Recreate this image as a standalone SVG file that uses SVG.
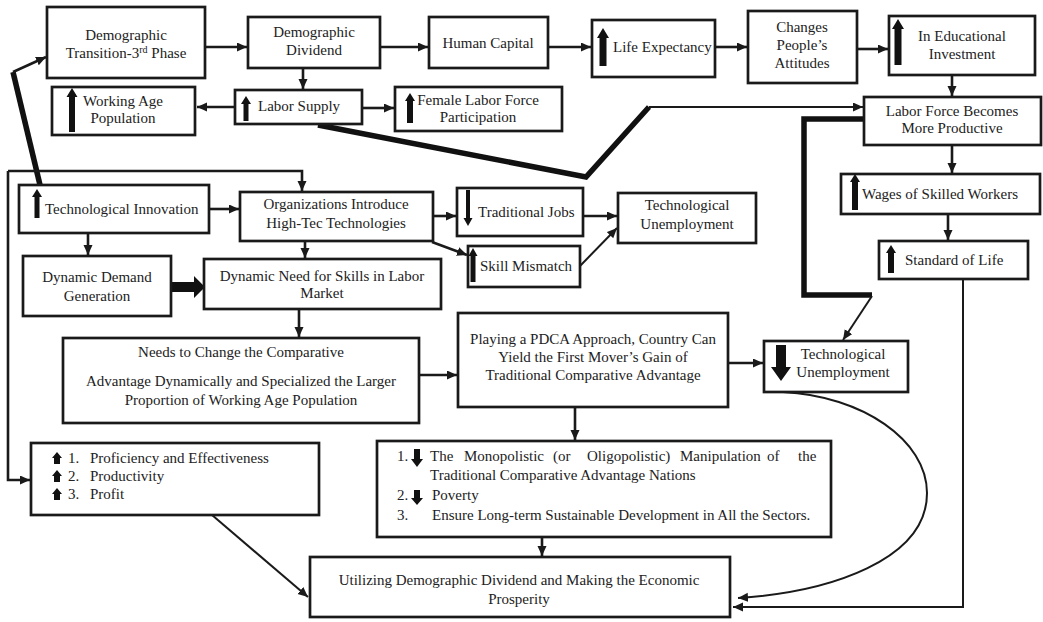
<svg xmlns="http://www.w3.org/2000/svg" width="1043" height="622" viewBox="0 0 1043 622">
<style>
.box{fill:#fff;stroke:#1a1a1a;stroke-width:2.7}
.t{font-size:15px;fill:#222}
.c{text-anchor:middle}
.ic{fill:#111;stroke:none}
.cn{fill:none;stroke:#1a1a1a;stroke-width:2.6}
.thin{fill:none;stroke:#1a1a1a;stroke-width:2}
.thick{fill:none;stroke:#111;stroke-width:5.5;stroke-linejoin:miter}
</style>
<defs>
<marker id="ah" markerUnits="userSpaceOnUse" markerWidth="11" markerHeight="10" refX="10" refY="4.5" orient="auto">
<path d="M0,0 L10,4.5 L0,9 Z" fill="#1a1a1a"/>
</marker>
</defs>
<rect width="1043" height="622" fill="#fff"/>

<g id="connectors">
<path class="cn" d="M205,47 L247,47" marker-end="url(#ah)"/>
<path class="cn" d="M380,47 L428,47" marker-end="url(#ah)"/>
<path class="cn" d="M548,47 L591,47" marker-end="url(#ah)"/>
<path class="cn" d="M715,47 L747,47" marker-end="url(#ah)"/>
<path class="cn" d="M857,49 L888,49" marker-end="url(#ah)"/>
<path class="cn" d="M303,68 L303,89" marker-end="url(#ah)"/>
<path class="cn" d="M235,107 L197,107" marker-end="url(#ah)"/>
<path class="cn" d="M362,108 L394,108" marker-end="url(#ah)"/>
<path class="cn" d="M952,75 L952,96" marker-end="url(#ah)"/>
<path class="cn" d="M952,145 L952,173" marker-end="url(#ah)"/>
<path class="cn" d="M948,214 L948,240" marker-end="url(#ah)"/>
<path class="thick" d="M318,125 L586,177 L649,107"/>
<path class="thin" d="M649,107 L863,107" marker-end="url(#ah)"/>
<path class="thick" d="M864,119 L804,119 L804,295 L872,295"/>
<path class="thin" d="M872,296 L843,340" marker-end="url(#ah)"/>
<path class="thick" d="M40,185 L13,72"/>
<path class="cn" d="M13,72 L46,57" marker-end="url(#ah)"/>
<path class="cn" d="M8,171 L302,171 L302,191" marker-end="url(#ah)"/>
<path class="cn" d="M8,171 L8,480 L30,480" marker-end="url(#ah)"/>
<path class="cn" d="M209,209 L239,209" marker-end="url(#ah)"/>
<path class="cn" d="M88,233 L88,255" marker-end="url(#ah)"/>
<path class="cn" d="M305,241 L305,258" marker-end="url(#ah)"/>
<path class="ic" d="M170,282 L194,282 L194,276 L205,287 L194,298 L194,292 L170,292 Z"/>
<path class="cn" d="M299,309 L299,337" marker-end="url(#ah)"/>
<path class="cn" d="M419,375 L457,375" marker-end="url(#ah)"/>
<path class="cn" d="M433,216 L456,216" marker-end="url(#ah)"/>
<path class="cn" d="M432,242 L467,255" marker-end="url(#ah)"/>
<path class="cn" d="M583,216 L617,216" marker-end="url(#ah)"/>
<path class="thin" d="M580,266 L617,228" marker-end="url(#ah)"/>
<path class="cn" d="M728,363 L763,363" marker-end="url(#ah)"/>
<path class="cn" d="M575,407 L575,440" marker-end="url(#ah)"/>
<path class="cn" d="M542,537 L542,556" marker-end="url(#ah)"/>
<path class="thin" d="M212,515 L308,597" marker-end="url(#ah)"/>
<path class="thin" d="M783,392 C862,396 927,440 927,493 C927,560 830,592 738,598" marker-end="url(#ah)"/>
<path class="thin" d="M963,279 L963,607 L733,607" marker-end="url(#ah)"/>
</g>

<g id="nodes" font-family="Liberation Serif, Times New Roman, serif">
<g id="n-transition">
<rect class="box" x="47" y="7" width="158" height="71"/>
<text class="t c" x="126" y="40">Demographic</text>
<text class="t c" x="126" y="58">Transition-3<tspan dy="-5" font-size="10">rd</tspan><tspan dy="5"> Phase</tspan></text>
</g>
<g id="n-dividend">
<rect class="box" x="248" y="17" width="132" height="51"/>
<text class="t c" x="314" y="37">Demographic</text>
<text class="t c" x="314" y="55">Dividend</text>
</g>
<g id="n-human">
<rect class="box" x="429" y="17" width="119" height="51"/>
<text class="t c" x="488" y="48">Human Capital</text>
</g>
<g id="n-life">
<rect class="box" x="592" y="20" width="123" height="57"/>
<path class="ic" d="M603,28 L609,38 L606.5,38 L606.5,66 L599.5,66 L599.5,38 L597,38 Z"/>
<text class="t" x="613" y="52">Life Expectancy</text>
</g>
<g id="n-attitudes">
<rect class="box" x="748" y="11" width="109" height="72"/>
<text class="t c" x="802" y="32">Changes</text>
<text class="t c" x="802" y="50">People’s</text>
<text class="t c" x="802" y="68">Attitudes</text>
</g>
<g id="n-education">
<rect class="box" x="889" y="16" width="146" height="59"/>
<path class="ic" d="M898,19 L904,29 L901.5,29 L901.5,65 L894.5,65 L894.5,29 L892,29 Z"/>
<text class="t c" x="962" y="41">In Educational</text>
<text class="t c" x="962" y="59">Investment</text>
</g>
<g id="n-laborsupply">
<rect class="box" x="235" y="90" width="127" height="34"/>
<path class="ic" d="M246,96 L251,104 L248.5,104 L248.5,121 L243.5,121 L243.5,104 L241,104 Z"/>
<text class="t" x="258" y="111">Labor Supply</text>
</g>
<g id="n-workingage">
<rect class="box" x="52" y="87" width="143" height="48"/>
<path class="ic" d="M72,88 L77.5,97 L75,97 L75,132 L69,132 L69,97 L66.5,97 Z"/>
<text class="t c" x="123" y="106">Working Age</text>
<text class="t c" x="123" y="123">Population</text>
</g>
<g id="n-female">
<rect class="box" x="395" y="87" width="167" height="44"/>
<path class="ic" d="M410,93 L415,101 L413,101 L413,123 L407,123 L407,101 L405,101 Z"/>
<text class="t c" x="478" y="105">Female Labor Force</text>
<text class="t c" x="478" y="122">Participation</text>
</g>
<g id="n-laborforce">
<rect class="box" x="864" y="97" width="177" height="48"/>
<text class="t c" x="952" y="116">Labor Force Becomes</text>
<text class="t c" x="952" y="133">More Productive</text>
</g>
<g id="n-wages">
<rect class="box" x="841" y="174" width="199" height="40"/>
<path class="ic" d="M855,174 L860,182 L858,182 L858,210 L852,210 L852,182 L850,182 Z"/>
<text class="t" x="862" y="199">Wages of Skilled Workers</text>
</g>
<g id="n-standard">
<rect class="box" x="879" y="241" width="149" height="38"/>
<path class="ic" d="M891,245 L896,253 L894,253 L894,273 L888,273 L888,253 L886,253 Z"/>
<text class="t" x="905" y="265">Standard of Life</text>
</g>
<g id="n-techinnov">
<rect class="box" x="19" y="185" width="190" height="48"/>
<path class="ic" d="M37,189 L42,197 L39.5,197 L39.5,218 L34.5,218 L34.5,197 L32,197 Z"/>
<text class="t" x="45" y="214">Technological Innovation</text>
</g>
<g id="n-organizations">
<rect class="box" x="240" y="192" width="193" height="49"/>
<text class="t c" x="336" y="209">Organizations Introduce</text>
<text class="t c" x="336" y="228">High-Tec Technologies</text>
</g>
<g id="n-tradjobs">
<rect class="box" x="457" y="188" width="126" height="48"/>
<path class="ic" d="M468,226 L472.5,218 L470,218 L470,190 L466,190 L466,218 L463.5,218 Z"/>
<text class="t" x="478" y="217">Traditional Jobs</text>
</g>
<g id="n-skill">
<rect class="box" x="468" y="246" width="112" height="41"/>
<path class="ic" d="M473,248 L477.5,256 L475.5,256 L475.5,282 L470.5,282 L470.5,256 L468.5,256 Z"/>
<text class="t" x="480" y="271">Skill Mismatch</text>
</g>
<g id="n-techunemp1">
<rect class="box" x="618" y="193" width="138" height="50"/>
<text class="t c" x="687" y="210">Technological</text>
<text class="t c" x="687" y="229">Unemployment</text>
</g>
<g id="n-demandgen">
<rect class="box" x="23" y="256" width="148" height="60"/>
<text class="t c" x="97" y="282">Dynamic Demand</text>
<text class="t c" x="97" y="301">Generation</text>
</g>
<g id="n-needskills">
<rect class="box" x="204" y="259" width="237" height="50"/>
<text class="t c" x="322" y="281">Dynamic Need for Skills in Labor</text>
<text class="t c" x="322" y="298">Market</text>
</g>
<g id="n-needs">
<rect class="box" x="63" y="338" width="356" height="85"/>
<text class="t c" x="241" y="357">Needs to Change the Comparative</text>
<text class="t c" x="241" y="386">Advantage Dynamically and Specialized the Larger</text>
<text class="t c" x="241" y="405">Proportion of Working Age Population</text>
</g>
<g id="n-pdca">
<rect class="box" x="458" y="313" width="270" height="94"/>
<text class="t c" x="593" y="344">Playing a PDCA Approach, Country Can</text>
<text class="t c" x="593" y="362">Yield the First Mover’s Gain of</text>
<text class="t c" x="593" y="380">Traditional Comparative Advantage</text>
</g>
<g id="n-techunemp2">
<rect class="box" x="764" y="341" width="144" height="51"/>
<path class="ic" d="M781,381 L791,367 L786,367 L786,345 L776,345 L776,367 L771,367 Z"/>
<text class="t c" x="843" y="359">Technological</text>
<text class="t c" x="843" y="377">Unemployment</text>
</g>
<g id="n-proficiency">
<rect class="box" x="31" y="443" width="288" height="72"/>
<path class="ic" d="M57,452 L62,458 L60,458 L60,464 L54,464 L54,458 L52,458 Z"/>
<path class="ic" d="M57,470 L62,476 L60,476 L60,482 L54,482 L54,476 L52,476 Z"/>
<path class="ic" d="M57,488 L62,494 L60,494 L60,500 L54,500 L54,494 L52,494 Z"/>
<text class="t" x="68" y="463">1.</text>
<text class="t" x="90" y="463">Proficiency and Effectiveness</text>
<text class="t" x="68" y="481">2.</text>
<text class="t" x="90" y="481">Productivity</text>
<text class="t" x="68" y="499">3.</text>
<text class="t" x="90" y="499">Profit</text>
</g>
<g id="n-outcomes">
<rect class="box" x="377" y="441" width="454" height="96"/>
<text class="t" x="397" y="461">1.</text>
<path class="ic" d="M417,467 L423,459 L420,459 L420,449 L414,449 L414,459 L411,459 Z"/>
<text class="t" y="461"><tspan x="430">The</tspan><tspan x="464">Monopolistic</tspan><tspan x="553">(or</tspan><tspan x="587">Oligopolistic)</tspan><tspan x="680">Manipulation</tspan><tspan x="767">of</tspan><tspan x="798">the</tspan></text>
<text class="t" x="430" y="480">Traditional Comparative Advantage Nations</text>
<text class="t" x="397" y="500">2.</text>
<path class="ic" d="M417,505 L423,498 L420,498 L420,490 L414,490 L414,498 L411,498 Z"/>
<text class="t" x="432" y="500">Poverty</text>
<text class="t" x="397" y="520">3.</text>
<text class="t" x="432" y="520">Ensure Long-term Sustainable Development in All the Sectors.</text>
</g>
<g id="n-utilizing">
<rect class="box" x="310" y="557" width="420" height="60"/>
<text class="t c" x="519" y="585">Utilizing Demographic Dividend and Making the Economic</text>
<text class="t c" x="519" y="604">Prosperity</text>
</g>
</g>
</svg>
